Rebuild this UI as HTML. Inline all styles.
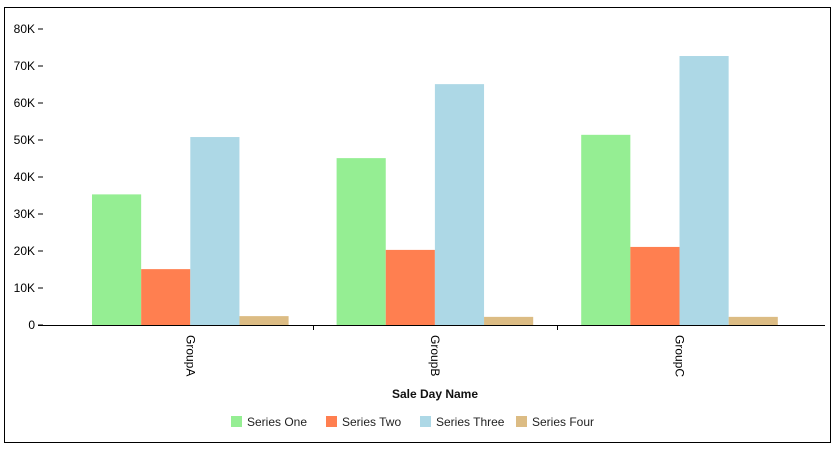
<!DOCTYPE html>
<html><head><meta charset="utf-8"><style>
body{margin:0;background:#fff;}
svg text{font-family:"Liberation Sans",Arial,sans-serif;}
</style></head><body>
<svg id="chart" width="838" height="452" xmlns="http://www.w3.org/2000/svg">
<rect x="4.5" y="7.5" width="826" height="435" fill="#fff" stroke="#000"/>
<g id="plot"></g>
</svg>
<script>
const categories=["GroupA","GroupB","GroupC"];
const seriesNames=["Series One","Series Two","Series Three","Series Four"];
const seriesOne=[35300,45100,51400];
const seriesTwo=[15100,20300,21100];
const seriesThree=[50800,65100,72700];
const seriesFour=[2400,2200,2200];
const yTicks=[0,10000,20000,30000,40000,50000,60000,70000,80000];
const yTickLabels=["0","10K","20K","30K","40K","50K","60K","70K","80K"];
const colors=["#95ee93","#ff7f50","#add8e6","#dcbc84"];
const NS="http://www.w3.org/2000/svg";
const g=document.getElementById('plot');
const x0=68,bandW=244.6,y0=325,yMax=80000,yTop=29;
const ys=v=>y0-(v/yMax)*(y0-yTop);
const xb=i=>x0+i*bandW;
function mk(t,a){const e=document.createElementNS(NS,t);for(const k in a)e.setAttribute(k,a[k]);g.appendChild(e);return e;}
const all=[seriesOne,seriesTwo,seriesThree,seriesFour];
const pad=24,bw=(bandW-2*pad)/4;
all.forEach((s,si)=>{s.forEach((v,ci)=>{
 const r=mk('rect',{x:xb(ci)+pad+si*bw,y:ys(v),width:bw,height:y0-ys(v),fill:colors[si]});
 
 
});});
yTicks.forEach((t,i)=>{
 const y=ys(t);
 const l=mk('line',{x1:38,x2:43,y1:y,y2:y,stroke:'#000'});
 
 
 const tx=mk('text',{x:35,y:y+4,'text-anchor':'end','font-size':12,fill:'#000'});
 tx.textContent=yTickLabels[i];
 
 
});
const ax=mk('line',{x1:38,x2:825,y1:y0+0.5,y2:y0+0.5,stroke:'#000'});


[1,2].forEach(i=>{const l=mk('line',{x1:Math.round(xb(i))+0.5,x2:Math.round(xb(i))+0.5,y1:y0,y2:y0+5,stroke:'#000'});
 
 });
categories.forEach((c,i)=>{
 const cx=xb(i)+bandW/2;
 const t=mk('text',{x:0,y:0,'font-size':12,fill:'#000',transform:`translate(${cx-4},335) rotate(90)`});
 t.textContent=c;
 
 
});
const xt=mk('text',{x:435,y:398,'text-anchor':'middle','font-size':12,'font-weight':'bold',fill:'#111'});
xt.textContent='Sale Day Name';


const lx=[231,326,420,516];
seriesNames.forEach((n,i)=>{
 const r=mk('rect',{x:lx[i],y:416,width:11,height:11,fill:colors[i]});
 
 
 const t=mk('text',{x:lx[i]+16,y:426,'font-size':12,fill:'#222'});
 t.textContent=n;
 
 
});
</script>
</body></html>
